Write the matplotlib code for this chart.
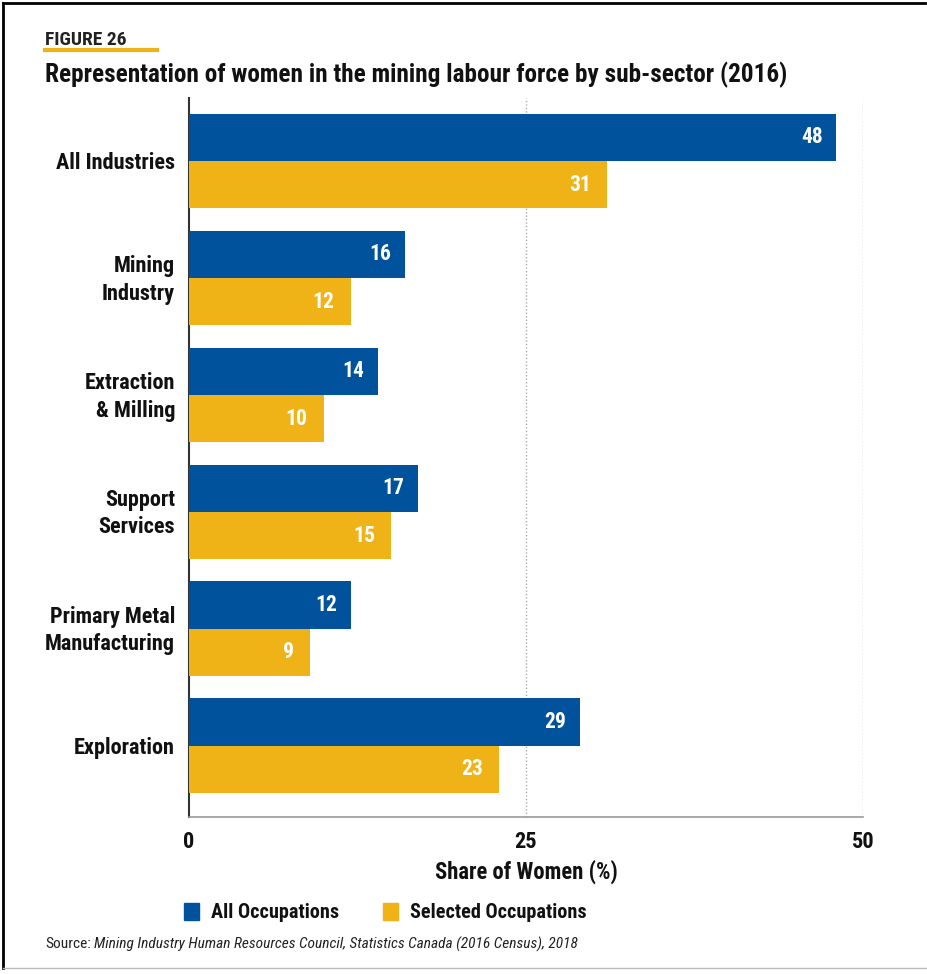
import matplotlib
matplotlib.use("Agg")
import matplotlib.pyplot as plt
from matplotlib.patches import Rectangle
from matplotlib.lines import Line2D
from matplotlib.transforms import ScaledTranslation
import matplotlib.font_manager as fm

categories = ["All Industries", "Mining\nIndustry", "Extraction\n& Milling", "Support\nServices",
              "Primary Metal\nManufacturing", "Exploration"]
all_occ = [48, 16, 14, 17, 12, 29]
sel_occ = [31, 12, 10, 15, 9, 23]
series_names = ["All Occupations", "Selected Occupations"]
xticks = [0, 25, 50]

BLUE = "#00529C"
GOLD = "#EFB217"

names = {f.name for f in fm.fontManager.ttflist}
condensed = [n for n in ["Roboto Condensed", "Liberation Sans Narrow", "Open Sans Condensed",
                         "DejaVu Sans Condensed"] if n in names]
base = condensed[0] if condensed else "Roboto"
narrow = bool(condensed)
plt.rcParams['font.family'] = [base, "DejaVu Sans"]
S = 1.0 if narrow else 0.93

W, H = 928, 974
fig = plt.figure(figsize=(W / 100, H / 100), dpi=100)

def fx(px):
    return px / W

def fy(py):
    return 1 - py / H

ax_left, ax_right, ax_top, ax_bottom = 189, 863, 98, 817
ax = fig.add_axes([fx(ax_left), fy(ax_bottom), fx(ax_right - ax_left), (ax_bottom - ax_top) / H])

n = len(categories)
ys = list(range(n))
bh = 0.405
ax.barh([y - bh / 2 for y in ys], all_occ, height=bh, color=BLUE, zorder=3)
ax.barh([y + bh / 2 for y in ys], sel_occ, height=bh, color=GOLD, zorder=3)

for y, v in zip(ys, all_occ):
    ax.text(v - 1.0, y - bh / 2, str(v), color="white", fontsize=15.5 * S, fontweight="bold",
            ha="right", va="center", zorder=4)
for y, v in zip(ys, sel_occ):
    ax.text(v - 1.2, y + bh / 2, str(v), color="white", fontsize=15.5 * S, fontweight="bold",
            ha="right", va="center", zorder=4)

ax.set_xlim(0, 50)
ax.set_ylim(n - 1 + 0.61, -0.54)
ax.set_yticks(ys)
ax.set_yticklabels(categories, fontsize=16 * S, fontweight="bold", linespacing=1.3, color="#111111")
ax.set_xticks(xticks)
ax.set_xticklabels([str(t) for t in xticks], fontsize=16 * S, fontweight="bold", color="#111111")
ax.tick_params(axis="y", length=0, pad=10)
ax.tick_params(axis="x", length=0, pad=10)
shift = ScaledTranslation(0, -2 / 100, fig.dpi_scale_trans)
for t in ax.get_yticklabels():
    t.set_horizontalalignment("right")
    t.set_verticalalignment("center")
    t.set_transform(t.get_transform() + shift)

ax.axvline(25, color="#AAAAAA", linestyle=(0, (1, 1.5)), lw=1.0, zorder=1)
ax.axvline(50, color="#AAAAAA", linestyle=(0, (1, 1.5)), lw=1.0, zorder=1)

for s in ["top", "right"]:
    ax.spines[s].set_visible(False)
ax.spines["left"].set_color("#333333")
ax.spines["left"].set_linewidth(1.5)
ax.spines["bottom"].set_color("#999999")
ax.spines["bottom"].set_linewidth(1.2)

ax.set_xlabel("Share of Women (%)", fontsize=16.3 * S, fontweight="bold", labelpad=5, color="#111111")

# Header
fig.text(fx(45), fy(40), "FIGURE 26", fontsize=14 * S, fontweight="bold", color="#222222", va="center")
fig.add_artist(Line2D([fx(45), fx(157)], [fy(50), fy(50)], color=GOLD, lw=3))
fig.text(fx(45), fy(75), "Representation of women in the mining labour force by sub-sector (2016)",
         fontsize=18.2 * S, fontweight="bold", color="#111111", va="center")

# Legend
fig.add_artist(Rectangle((fx(184), fy(920)), 15 / W, 17 / H, color=BLUE, transform=fig.transFigure))
fig.text(fx(211), fy(912), series_names[0], fontsize=14.6 * S, fontweight="bold", va="center", color="#111111")
fig.add_artist(Rectangle((fx(383), fy(920)), 15 / W, 17 / H, color=GOLD, transform=fig.transFigure))
fig.text(fx(410), fy(912), series_names[1], fontsize=14.6 * S, fontweight="bold", va="center", color="#111111")

# Source
src = fig.text(fx(45), fy(944), "Source:", fontsize=11.1 * S, color="#222222", va="center")
fig.canvas.draw()
bb = src.get_window_extent()
fig.text((bb.x1 + 3) / W, fy(944), "Mining Industry Human Resources Council, Statistics Canada (2016 Census), 2018",
         fontsize=11.1 * S, color="#222222", va="center", style="italic")

# Border
fig.add_artist(Line2D([fx(3), fx(925)], [fy(3), fy(3)], color="black", lw=2))
fig.add_artist(Line2D([fx(3), fx(3)], [fy(3), fy(968)], color="black", lw=2))
fig.add_artist(Line2D([fx(3), fx(928)], [fy(968), fy(968)], color="#BBBBBB", lw=1))

fig.savefig("out.png", dpi=100)
